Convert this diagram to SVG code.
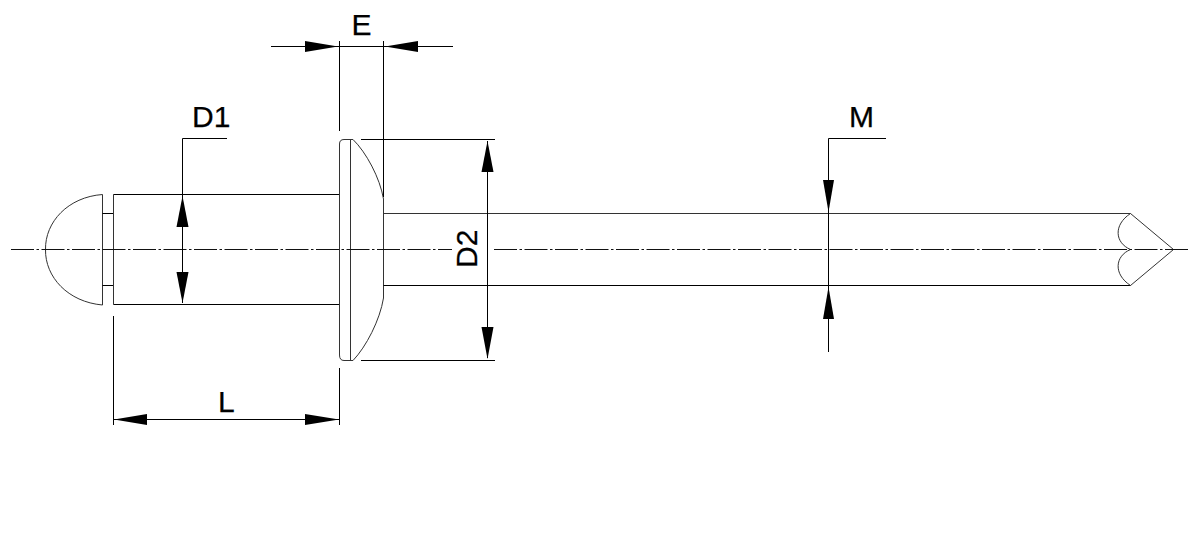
<svg xmlns="http://www.w3.org/2000/svg" width="1190" height="540" viewBox="0 0 1190 540">
<style>
.l{fill:none;stroke:#000;stroke-width:1}
.g{fill:none;stroke:#333;stroke-width:1}
.c{fill:none;stroke:#111;stroke-width:1;stroke-dasharray:23 2.5 2.5 2.5}
.a{fill:#000;stroke:none}
text{font-family:"Liberation Sans",Arial,sans-serif;font-size:30px;fill:#000;stroke:#000;stroke-width:.25}
</style>
<rect width="1190" height="540" fill="#fff"/>
<g id="rivet">
<path class="g" d="M102.500 194.500C68 197 45 222 45.500 249.500C45 277 68 302 102.500 305V194.500Z"/>
<path class="l" d="M102.500 213.500H113.500M102.500 285.500H113.500"/>
<path class="g" d="M113.500 194.500V304.500"/>
<path class="l" d="M113.500 194.500H339.500M113.500 304.500H339.500"/>
<path class="g" d="M353 139.500H344Q339.500 139.500 339.500 144V355Q339.500 360.500 344 360.500H353"/>
<path class="g" d="M350.500 139.500V360.500"/>
<path class="g" d="M353 139.500C366 152 380 178 383.500 199V298C380 320 366 347 353 360.500"/>
<path class="g" d="M383.500 213.500H1130.500L1173.500 249.500L1130.500 285.500"/>
<path class="l" d="M383.500 285.500H1130.500"/>
<path class="g" d="M1130.500 213.500C1113 225 1115 243 1130.500 249.500C1115 256 1113 274 1130.500 285.500"/>
</g>
<g id="centerline">
<path class="c" d="M11 249.500H452M494 249.500H1190"/>
</g>
<g id="connectors">
<path class="l" d="M271 46.500H453"/>
<path class="l" d="M339.500 41V131M383.500 41V197"/>
<path class="l" d="M361 139.500H495M361 360.500H495M487.500 141V358"/>
<path class="l" d="M227 138.500H182.500V303"/>
<path class="l" d="M886 138.500H828.500V352"/>
<path class="l" d="M113.500 316V425M339.500 368V425M114 419.500H339"/>
<path class="a" d="M338 46.500L305 41V52Z"/>
<path class="a" d="M385 46.500L418 41V52Z"/>
<path class="a" d="M487.500 141L481.500 172H493.500Z"/>
<path class="a" d="M487.500 359L481.500 327H493.500Z"/>
<path class="a" d="M182.500 196L176.500 227H188.500Z"/>
<path class="a" d="M182.500 303L176.500 272H188.500Z"/>
<path class="a" d="M828.500 212L823 180H834Z"/>
<path class="a" d="M828.500 287L823 319H834Z"/>
<path class="a" d="M114 419.500L147 414V425Z"/>
<path class="a" d="M339 419.500L305 414V425Z"/>
</g>
<g id="label-E"><text x="351.500" y="35">E</text></g>
<g id="label-D1"><text x="192" y="127">D1</text></g>
<g id="label-D2"><text transform="translate(477 268) rotate(-90)">D2</text></g>
<g id="label-M"><text x="849" y="127">M</text></g>
<g id="label-L"><text x="218" y="412">L</text></g>
</svg>
